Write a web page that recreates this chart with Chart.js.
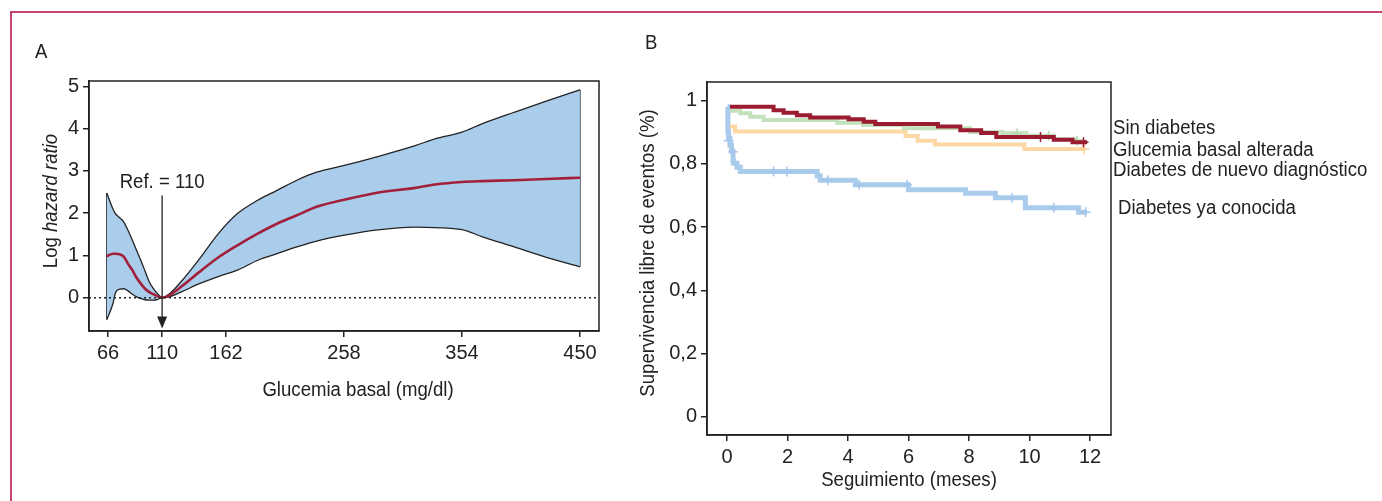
<!DOCTYPE html>
<html>
<head>
<meta charset="utf-8">
<script src="https://cdn.jsdelivr.net/npm/chart.js@4.4.1/dist/chart.umd.min.js"></script>
<style>
  body { margin: 0; background: #fff; width: 1382px; height: 501px; overflow: hidden; position: relative; }
  #marco { position: absolute; left: 10px; top: 11px; right: -5px; bottom: -5px;
           border-top: 2px solid #c8446c; border-left: 2px solid #c8446c; }
  canvas { position: absolute; top: 0; }
  #graficoA { left: 0; }
  #graficoB { left: 620px; }
</style>
</head>
<body>
<div id="marco"></div>
<canvas id="graficoA" width="620" height="501"></canvas>
<canvas id="graficoB" width="762" height="501"></canvas>
<script>
// ---- Panel A: spline de glucemia basal ----
const glucosa = [65, 70, 72, 75.4, 78.8, 82.3, 85.8, 89.2, 92.7, 96.1, 99.6, 103, 106.5, 110, 116, 125.2, 140.4, 155.6, 171.3, 187.4, 203.5, 219.6, 235.7, 258.2, 283.9, 316, 332, 354, 370.7, 396.5, 422, 450];
const logHR = [0.98, 1.04, 1.04, 1.03, 0.97, 0.8, 0.65, 0.47, 0.33, 0.21, 0.13, 0.08, 0.03, 0, 0.055, 0.25, 0.61, 0.95, 1.24, 1.51, 1.75, 1.95, 2.15, 2.32, 2.48, 2.6, 2.68, 2.74, 2.76, 2.78, 2.81, 2.84];
const icSup = [2.48, 2.1, 1.99, 1.89, 1.79, 1.59, 1.36, 1.12, 0.88, 0.63, 0.37, 0.21, 0.09, 0, 0.09, 0.37, 0.92, 1.51, 1.99, 2.30, 2.54, 2.78, 2.97, 3.13, 3.33, 3.6, 3.76, 3.92, 4.12, 4.39, 4.65, 4.92];
const icInf = [-0.52, -0.14, 0.11, 0.2, 0.21, 0.16, 0.08, 0.02, -0.02, -0.05, -0.06, -0.06, -0.04, 0, 0.02, 0.13, 0.33, 0.5, 0.65, 0.88, 1.04, 1.2, 1.34, 1.48, 1.6, 1.67, 1.66, 1.61, 1.44, 1.2, 0.96, 0.73];
const ticksGlucosa = [66, 110, 162, 258, 354, 450];
const ticksLogHR = [0, 1, 2, 3, 4, 5];
const glucosaRef = 110;

// ---- Panel B: Kaplan-Meier ----
const grupos = ['Sin diabetes', 'Glucemia basal alterada', 'Diabetes de nuevo diagnóstico', 'Diabetes ya conocida'];
const tiempoSinDiabetes = [0.1, 1.54, 1.87, 2.31, 2.75, 4.02, 4.52, 4.9, 6.97, 7.71, 8.4, 8.9, 10.8, 11.42, 11.9];
const supSinDiabetes = [0.981, 0.970, 0.962, 0.954, 0.947, 0.941, 0.933, 0.926, 0.918, 0.906, 0.898, 0.885, 0.876, 0.868, 0.868];
const tiempoGlucAlterada = [0.1, 0.44, 0.77, 1.21, 3.64, 4.5, 5.85, 8.04, 9.1, 9.9, 10.8, 11.5, 11.85];
const supGlucAlterada = [0.968, 0.96, 0.949, 0.939, 0.930, 0.923, 0.913, 0.901, 0.897, 0.889, 0.878, 0.872, 0.872];
const tiempoNuevoDiag = [0.1, 0.27, 5.9, 6.3, 6.87, 9.83, 11.85];
const supNuevoDiag = [0.918, 0.902, 0.888, 0.873, 0.861, 0.847, 0.847];
const tiempoConocida = [0.02, 0.03, 0.05, 0.1, 0.15, 0.2, 0.22, 0.33, 0.44, 2.98, 3.08, 4.24, 6.0, 7.88, 8.87, 9.86, 11.62, 11.9];
const supConocida = [0.981, 0.902, 0.88, 0.86, 0.84, 0.81, 0.802, 0.789, 0.776, 0.762, 0.748, 0.734, 0.718, 0.707, 0.693, 0.661, 0.647, 0.647];
// censuras (+)
const censSinDiabetes = [[10.36, 0.885], [11.78, 0.868]];
const censGlucAlterada = [[9.59, 0.897], [10.63, 0.889], [11.57, 0.872]];
const censNuevoDiag = [[11.8, 0.847]];
const censConocida = [[0.05, 0.873], [0.2, 0.838], [1.54, 0.776], [1.98, 0.776], [3.33, 0.748], [4.37, 0.734], [5.95, 0.734], [9.42, 0.693], [10.8, 0.661], [11.85, 0.647]];
const ticksMeses = [0, 2, 4, 6, 8, 10, 12];
const ticksSupervivencia = [0, 0.2, 0.4, 0.6, 0.8, 1];
const etiquetasSupervivencia = ['0', '0,2', '0,4', '0,6', '0,8', '1'];

const FUENTE = "'Liberation Sans', Arial, sans-serif";
const TINTA = '#222';
const ESTRECHO = 0.93; // la figura original usa una letra condensada

const toXY = (xs, ys) => xs.map((x, i) => ({ x: x, y: ys[i] }));
const toPts = arr => arr.map(p => ({ x: p[0], y: p[1] }));

// escribe texto algo comprimido en horizontal
function texto(ctx, t, x, y, align, rot) {
  ctx.save();
  ctx.translate(x, y);
  if (rot) ctx.rotate(rot);
  ctx.scale(ESTRECHO, 1);
  ctx.textAlign = align;
  ctx.textBaseline = 'middle';
  ctx.fillText(t, 0, 0);
  ctx.restore();
}

function ejeComun(extra) {
  return Object.assign({
    type: 'linear',
    grid: { drawOnChartArea: false, drawTicks: true, tickLength: 6, color: TINTA, lineWidth: 1.5 },
    border: { display: true, color: TINTA, width: 1.5 },
    ticks: { color: TINTA, font: { family: FUENTE, size: 20 }, padding: 4, maxRotation: 0, autoSkip: false }
  }, extra);
}

// plugin con los textos y adornos del panel A
const adornosA = {
  id: 'adornosA',
  afterDraw(chart) {
    const { ctx, chartArea: a, scales: { x, y } } = chart;
    ctx.save();
    ctx.strokeStyle = TINTA;
    ctx.lineWidth = 1.5;
    ctx.strokeRect(a.left, a.top, a.right - a.left, a.bottom - a.top);

    // linea de referencia en 0
    ctx.setLineDash([2, 3]);
    ctx.beginPath();
    ctx.moveTo(a.left, y.getPixelForValue(0));
    ctx.lineTo(a.right, y.getPixelForValue(0));
    ctx.stroke();
    ctx.setLineDash([]);

    // flecha Ref. = 110
    const xr = x.getPixelForValue(glucosaRef);
    const yTop = y.getPixelForValue(2.42), yTip = y.getPixelForValue(-0.73);
    ctx.lineWidth = 1.3;
    ctx.beginPath();
    ctx.moveTo(xr, yTop);
    ctx.lineTo(xr, yTip - 10);
    ctx.stroke();
    ctx.fillStyle = TINTA;
    ctx.beginPath();
    ctx.moveTo(xr, yTip);
    ctx.lineTo(xr - 5, yTip - 12);
    ctx.lineTo(xr + 5, yTip - 12);
    ctx.closePath();
    ctx.fill();

    ctx.font = `20px ${FUENTE}`;
    texto(ctx, 'Ref. = ' + glucosaRef, xr, 182, 'center');
    texto(ctx, 'Glucemia basal (mg/dl)', 358, 390, 'center');
    texto(ctx, 'A', 35, 52, 'left');

    // titulo eje y con parte en cursiva
    ctx.translate(51, 201);
    ctx.rotate(-Math.PI / 2);
    ctx.scale(ESTRECHO, 1);
    ctx.textBaseline = 'middle';
    ctx.textAlign = 'left';
    const t1 = 'Log ', t2 = 'hazard ratio';
    ctx.font = `20px ${FUENTE}`;
    const w1 = ctx.measureText(t1).width;
    ctx.font = `italic 20px ${FUENTE}`;
    const w2 = ctx.measureText(t2).width;
    const x0 = -(w1 + w2) / 2;
    ctx.font = `20px ${FUENTE}`;
    ctx.fillText(t1, x0, 0);
    ctx.font = `italic 20px ${FUENTE}`;
    ctx.fillText(t2, x0 + w1, 0);
    ctx.restore();
  }
};

new Chart(document.getElementById('graficoA'), {
  type: 'line',
  data: {
    datasets: [
      { data: toXY(glucosa, logHR), borderColor: '#a3203b', borderWidth: 2.6, cubicInterpolationMode: 'monotone', fill: false },
      { data: toXY(glucosa, icSup), borderColor: TINTA, borderWidth: 1.3, cubicInterpolationMode: 'monotone', fill: false },
      { data: toXY(glucosa, icInf), borderColor: TINTA, borderWidth: 1.3, cubicInterpolationMode: 'monotone',
        fill: { target: 1 }, backgroundColor: 'rgb(171,205,236)' },
      { data: [{ x: glucosa[0], y: icInf[0] }, { x: glucosa[0], y: icSup[0] }], borderColor: TINTA, borderWidth: 1.3, tension: 0 },
      { data: [{ x: glucosa[glucosa.length - 1], y: icInf[icInf.length - 1] }, { x: glucosa[glucosa.length - 1], y: icSup[icSup.length - 1] }],
        borderColor: TINTA, borderWidth: 1.3, tension: 0 }
    ]
  },
  options: {
    responsive: false,
    animation: false,
    layout: { padding: { left: 0, right: 21, top: 81, bottom: 0 } },
    plugins: { legend: { display: false }, tooltip: { enabled: false } },
    elements: { point: { radius: 0 } },
    scales: {
      x: ejeComun({ min: 50.5, max: 465.5,
        afterBuildTicks: s => { s.ticks = ticksGlucosa.map(v => ({ value: v })); },
        afterFit: s => { s.height = 170; } }),
      y: ejeComun({ min: -0.79, max: 5.13,
        afterBuildTicks: s => { s.ticks = ticksLogHR.map(v => ({ value: v })); },
        afterFit: s => { s.width = 89; } })
    }
  },
  plugins: [adornosA]
});

// plugin con los textos del panel B
const adornosB = {
  id: 'adornosB',
  afterDraw(chart) {
    const { ctx, chartArea: a } = chart;
    ctx.save();
    ctx.strokeStyle = TINTA;
    ctx.lineWidth = 1.5;
    ctx.strokeRect(a.left, a.top, a.right - a.left, a.bottom - a.top);

    ctx.fillStyle = TINTA;
    ctx.font = `20px ${FUENTE}`;
    texto(ctx, 'B', 25, 43, 'left');
    const legY = [128, 150, 170, 208];
    const legX = [493, 493, 493, 498];
    grupos.forEach((g, i) => texto(ctx, g, legX[i], legY[i], 'left'));

    texto(ctx, 'Seguimiento (meses)', 289, 480, 'center');
    texto(ctx, 'Supervivencia libre de eventos (%)', 28, 253, 'center', -Math.PI / 2);
    ctx.restore();
  }
};

function curvaKM(t, s, color, ancho) {
  return { data: toXY(t, s), borderColor: color, borderWidth: ancho, stepped: true, fill: false,
           borderCapStyle: 'butt', borderJoinStyle: 'miter', pointRadius: 0 };
}
function censuras(arr, color) {
  return { data: toPts(arr), showLine: false, pointStyle: 'cross', pointRadius: 5,
           pointBorderColor: color, pointBorderWidth: 1.5, borderColor: color };
}

new Chart(document.getElementById('graficoB'), {
  type: 'line',
  data: {
    datasets: [
      censuras(censSinDiabetes, '#9b1b30'),
      curvaKM(tiempoSinDiabetes, supSinDiabetes, '#9b1b30', 4),
      censuras(censGlucAlterada, '#b5d9ae'),
      curvaKM(tiempoGlucAlterada, supGlucAlterada, '#c4e1bd', 4),
      censuras(censNuevoDiag, '#fcd09a'),
      curvaKM(tiempoNuevoDiag, supNuevoDiag, '#fdd8a4', 4),
      censuras(censConocida, '#a3c6ea'),
      curvaKM(tiempoConocida, supConocida, '#a9cbec', 5)
    ]
  },
  options: {
    responsive: false,
    animation: false,
    layout: { padding: { left: 0, right: 271, top: 82, bottom: 0 } },
    plugins: { legend: { display: false }, tooltip: { enabled: false } },
    scales: {
      x: ejeComun({ min: -0.66, max: 12.69,
        afterBuildTicks: s => { s.ticks = ticksMeses.map(v => ({ value: v })); },
        afterFit: s => { s.height = 66; } }),
      y: ejeComun({ min: -0.058, max: 1.059,
        afterBuildTicks: s => { s.ticks = ticksSupervivencia.map(v => ({ value: v })); },
        afterFit: s => { s.width = 87; },
        ticks: { color: TINTA, font: { family: FUENTE, size: 20 }, padding: 4, autoSkip: false,
                 callback: (v, i) => etiquetasSupervivencia[i] } })
    }
  },
  plugins: [adornosB]
});
</script>
</body>
</html>
